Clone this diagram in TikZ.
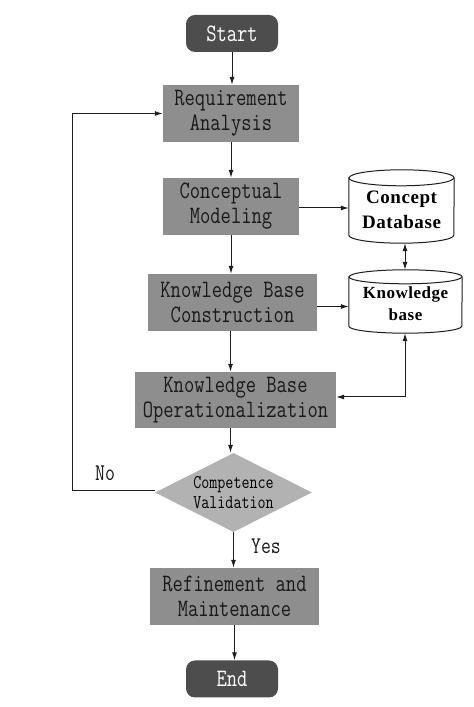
\documentclass[tikz,border=0pt]{standalone}
\usepackage{fontspec}
\usetikzlibrary{shapes.geometric,arrows.meta,calc}
\newfontfamily\boxfont[FakeStretch=0.8]{Latin Modern Mono}
\newfontfamily\cylfont[LetterSpace=3]{Liberation Serif}
\definecolor{boxgray}{RGB}{142,142,142}
\definecolor{diagray}{RGB}{178,178,178}
\definecolor{darkgray2}{RGB}{77,77,77}
\definecolor{linec}{RGB}{30,30,30}
\tikzset{
  procbox/.style={rectangle, fill=boxgray, inner sep=0pt, align=center, text=black!90,
    font=\boxfont\fontsize{25}{25}\selectfont},
  termbox/.style={rectangle, rounded corners=9pt, fill=darkgray2, inner sep=0pt, align=center,
    text=white, minimum width=92pt, minimum height=37pt, font=\boxfont\fontsize{25}{25}\selectfont},
  decbox/.style={diamond, fill=diagray, inner sep=0pt, align=center, aspect=2,
    minimum width=157pt, minimum height=79pt, font=\boxfont\fontsize{19.5}{20}\selectfont},
  cylbox/.style={rectangle, draw=none, inner sep=0pt, align=center, font=\cylfont\bfseries},
  arr/.style={draw=linec, line width=1pt, -{Latex[length=8pt,width=5pt]}},
  darr/.style={draw=linec, line width=1pt, {Latex[length=8pt,width=5pt]}-{Latex[length=8pt,width=5pt]}},
  lbl/.style={font=\boxfont\fontsize{24}{24}\selectfont, text=black!90},
  cylline/.style={draw=linec, line width=1pt}
}
\begin{document}
\begin{tikzpicture}[x=1pt,y=1pt]
\useasboundingbox (0,0) rectangle (474,707);
% y_tikz = 707 - y_px
\node[termbox] (start) at (232,673.5) {Start};
\node[procbox, minimum width=136pt, minimum height=57pt] (ra) at (231,593.5) {Requirement\\Analysis};
\node[procbox, minimum width=136pt, minimum height=57pt] (cm) at (231,500.5) {Conceptual\\Modeling};
\node[procbox, minimum width=169pt, minimum height=57pt] (kbc) at (232.5,404.5) {Knowledge Base\\Construction};
\node[procbox, minimum width=201pt, minimum height=56pt] (kbo) at (235.5,307) {Knowledge Base\\Operationalization};
\node[decbox] (dia) at (233.5,214.5) {Competence\\Validation};
\node[procbox, minimum width=169pt, minimum height=57pt] (rm) at (234.5,110.5) {Refinement and\\Maintenance};
\node[termbox] (end) at (232,28) {End};

% cylinders
\node[cylbox, minimum width=105pt, minimum height=73pt] (cdb) at (401.5,500.5) {};
\draw[cylline, fill=white] ($(cdb.north west)+(0,-8)$) -- ($(cdb.south west)+(0,8)$)
  arc[start angle=180, end angle=360, x radius=52.5, y radius=8]
  -- ($(cdb.north east)+(0,-8)$)
  arc[start angle=0, end angle=180, x radius=52.5, y radius=8] -- cycle;
\draw[cylline] ($(cdb.north west)+(0,-8)$) arc[start angle=180, end angle=360, x radius=52.5, y radius=8];
\node[cylbox, font=\cylfont\bfseries\fontsize{19}{25}\selectfont] at ($(cdb.center)+(0,-3)$) {Concept\\Database};

\node[cylbox, minimum width=113pt, minimum height=63pt] (kb) at (405.5,405.5) {};
\draw[cylline, fill=white] ($(kb.north west)+(0,-7)$) -- ($(kb.south west)+(0,7)$)
  arc[start angle=180, end angle=360, x radius=56.5, y radius=7]
  -- ($(kb.north east)+(0,-7)$)
  arc[start angle=0, end angle=180, x radius=56.5, y radius=7] -- cycle;
\draw[cylline] ($(kb.north west)+(0,-7)$) arc[start angle=180, end angle=360, x radius=56.5, y radius=7];
\node[cylbox, font=\cylfont\bfseries\fontsize{17}{22}\selectfont] at ($(kb.center)+(0,-2)$) {Knowledge\\base};

% main flow
\draw[arr] (start.south) -- (start.south |- ra.north);
\draw[arr] (ra.south) -- (ra.south |- cm.north);
\draw[arr] (cm.south) -- (cm.south |- kbc.north);
\draw[arr] ([xshift=-2pt]kbc.south) -- ([xshift=-2pt]kbc.south |- kbo.north);
\draw[arr] ([xshift=-5pt]kbo.south) -- ([xshift=-5pt]kbo.south |- dia.north);
\draw[arr] (dia.south) -- (dia.south |- rm.north);
\draw[arr] (rm.south) -- (rm.south |- end.north);

% side connections
\draw[arr] ([yshift=-1.5pt]cm.east) -- ([yshift=-1.5pt]cm.east -| cdb.west);
\draw[darr] ([xshift=3.5pt]cdb.south) -- ([xshift=3.5pt]cdb.south |- kb.north);
\draw[arr] ([yshift=-4pt]kbc.east) -- ([yshift=-4pt]kbc.east -| kb.west);
\coordinate (kbx) at (405,0);
\draw[darr] ([yshift=3pt]kbo.east) -- ([yshift=3pt]kbo.east -| kbx) -- (kbx |- kb.south);

% loop back
\coordinate (loopx) at (72,0);
\draw[arr] ([yshift=2pt]dia.west) -- ([yshift=2pt]dia.west -| loopx) |- (ra.west);
\node[lbl] (no) at (105,234) {No};
\node[lbl] (yes) at (266,161) {Yes};
\end{tikzpicture}
\end{document}
